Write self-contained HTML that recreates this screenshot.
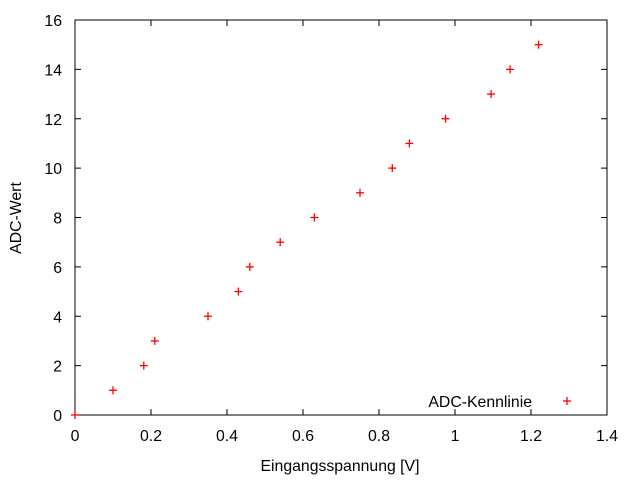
<!DOCTYPE html>
<html><head><meta charset="utf-8"><style>
html,body{margin:0;padding:0;background:#fff}
svg{display:block;font-family:"Liberation Sans",sans-serif;font-size:15.8px}
</style></head><body>
<svg id="c" width="640" height="480"></svg>
<script>
const xs=[0,0.1,0.181,0.21,0.35,0.43,0.46,0.54,0.63,0.75,0.835,0.88,0.975,1.095,1.145,1.22];
const ys=[0,1,2,3,4,5,6,7,8,9,10,11,12,13,14,15];
const xTicks=[0,0.2,0.4,0.6,0.8,1,1.2,1.4];
const xTickLabels=["0","0.2","0.4","0.6","0.8","1","1.2","1.4"];
const yTicks=[0,2,4,6,8,10,12,14,16];
const yTickLabels=["0","2","4","6","8","10","12","14","16"];
const L=75,R=607,T=20,B=415;
const X=v=>L+v/1.4*(R-L), Y=v=>B-v/16*(B-T);
const svg=document.getElementById('c');const NS='http://www.w3.org/2000/svg';
function mk(t,a,p){const e=document.createElementNS(NS,t);for(const k in a)e.setAttribute(k,a[k]);(p||svg).appendChild(e);return e;}
const frame=mk('rect',{x:L,y:T,width:R-L,height:B-T,fill:'none',stroke:'#000','stroke-width':1});


xTicks.forEach((v,i)=>{
 const g=mk('g',{});
 
 
 mk('line',{x1:X(v),x2:X(v),y1:B,y2:B-6,stroke:'#000'},g);
 mk('line',{x1:X(v),x2:X(v),y1:T,y2:T+6,stroke:'#000'},g);
 const t=mk('text',{x:X(v),y:B+26,'text-anchor':'middle',fill:'#000'},g);t.textContent=xTickLabels[i];
});
yTicks.forEach((v,i)=>{
 const g=mk('g',{});
 
 
 mk('line',{x1:L,x2:L+6,y1:Y(v),y2:Y(v),stroke:'#000'},g);
 mk('line',{x1:R,x2:R-6,y1:Y(v),y2:Y(v),stroke:'#000'},g);
 const t=mk('text',{x:L-13,y:Y(v)+6,'text-anchor':'end',fill:'#000'},g);t.textContent=yTickLabels[i];
});
xs.forEach((v,i)=>{
 const g=mk('g',{stroke:'#f00','stroke-width':1.3});
 
 
 const cx=X(v),cy=Y(ys[i]);
 mk('line',{x1:cx-4,x2:cx+4,y1:cy,y2:cy},g);
 mk('line',{x1:cx,x2:cx,y1:cy-4,y2:cy+4},g);
});
const lg=mk('g',{});


const lt=mk('text',{x:532,y:407,'text-anchor':'end',fill:'#000'},lg);lt.textContent='ADC-Kennlinie';
mk('line',{x1:563,x2:571,y1:401,y2:401,stroke:'#f00','stroke-width':1.3},lg);
mk('line',{x1:567,x2:567,y1:397,y2:405,stroke:'#f00','stroke-width':1.3},lg);
const xt=mk('text',{x:340,y:471,'text-anchor':'middle',fill:'#000'});xt.textContent='Eingangsspannung [V]';


const yt=mk('text',{x:21,y:218,'text-anchor':'middle',fill:'#000',transform:'rotate(-90 21 218)'});yt.textContent='ADC-Wert';


</script>
</body></html>
